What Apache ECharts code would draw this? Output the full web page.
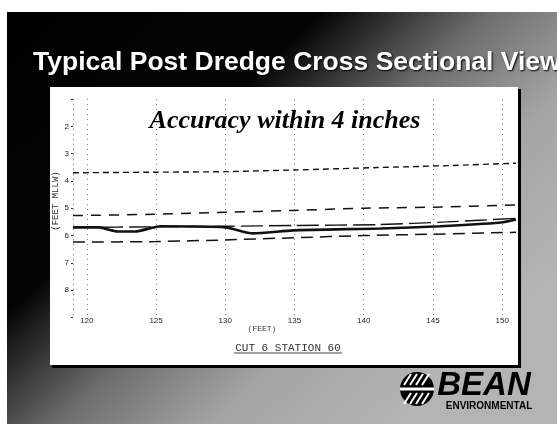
<!DOCTYPE html>
<html>
<head>
<meta charset="utf-8">
<script src="https://cdn.jsdelivr.net/npm/echarts@6/dist/echarts.min.js"></script>
<style>
  html, body { margin: 0; padding: 0; background: #fff; }
  #chart { width: 557px; height: 424px; }
</style>
</head>
<body>
<div id="chart"></div>
<script>
// Station (feet) and depth (feet MLLW) pairs for each profile
const upperTolerance = [[119, 3.70], [125, 3.68], [130, 3.66], [135, 3.60], [141, 3.51], [146, 3.44], [151, 3.35]];
const designGrade   = [[119, 5.27], [125, 5.22], [130, 5.15], [135, 5.08], [140, 5.00], [145, 4.96], [151, 4.88]];
const targetGrade   = [[119, 5.70], [125, 5.68], [130, 5.66], [135, 5.63], [141, 5.60], [146, 5.50], [151, 5.37]];
const surveyGrade   = [[119, 5.70], [120.9, 5.70], [122.2, 5.85], [123.5, 5.85], [125.3, 5.66], [130, 5.70],
                       [132, 5.92], [134.9, 5.81], [141.2, 5.74], [145.5, 5.66], [149.9, 5.52], [151, 5.41]];
const lowerTolerance = [[119, 6.24], [125, 6.22], [130, 6.16], [135, 6.08], [140, 6.00], [145, 5.95], [151, 5.88]];

const stationTicks = [120, 125, 130, 135, 140, 145, 150];
const depthTicks = [2, 3, 4, 5, 6, 7, 8];

const slideTitle = 'Typical Post Dredge Cross Sectional View';
const noteText = 'Accuracy within 4 inches';
const xName = '(FEET)';
const yName = '(FEET MLLW)';
const sectionName = 'CUT 6 STATION 60';

const chart = echarts.init(document.getElementById('chart'), null, { renderer: 'canvas' });

const ink = '#111';
const lineSeries = (name, data, width, dash) => ({
  name, type: 'line', data, symbol: 'none', smooth: 0.2, z: 5,
  lineStyle: { color: ink, width, type: dash || 'solid' }
});

const survey = lineSeries('survey', surveyGrade, 2.6);
survey.markLine = {
  silent: true, symbol: 'none', label: { show: false },
  lineStyle: { color: '#777', width: 1, type: [1, 4] },
  data: stationTicks.map(v => ({ xAxis: v }))
};

chart.setOption({
  backgroundColor: '#ffffff',
  animation: false,
  grid: { left: 73, right: 41, top: 99, bottom: 106.5 },
  xAxis: {
    type: 'value', min: 119, max: 151, interval: 1,
    axisLine: { show: false }, axisTick: { show: false }, splitLine: { show: false },
    axisLabel: {
      margin: -1, color: '#222', fontSize: 8, fontFamily: 'Liberation Sans',
      formatter: v => stationTicks.includes(v) ? String(v) : ''
    }
  },
  yAxis: {
    type: 'value', min: 1, max: 9, interval: 1, inverse: true,
    axisLine: { show: true, lineStyle: { color: '#999', width: 1, type: [1, 4] } },
    axisTick: { show: true, length: 2, lineStyle: { color: '#333' } },
    splitLine: { show: false },
    axisLabel: {
      margin: 4, color: '#222', fontSize: 8, fontFamily: 'Liberation Sans',
      formatter: v => depthTicks.includes(v) ? String(v) : ''
    }
  },
  series: [
    lineSeries('upper', upperTolerance, 1.4, [6, 4]),
    lineSeries('design', designGrade, 1.5, [10, 8]),
    lineSeries('target', targetGrade, 1.4, [22, 6]),
    survey,
    lineSeries('lower', lowerTolerance, 1.5, [12, 7])
  ],
  graphic: [
    // slide backdrop: black fading to grey towards the lower right
    { type: 'rect', z: -20, silent: true, shape: { x: 7, y: 12, width: 550, height: 412 },
      style: { fill: new echarts.graphic.LinearGradient(0, 0, 400, 420, [
        { offset: 0, color: '#000' }, { offset: 0.40, color: '#050505' },
        { offset: 0.60, color: '#6e6e6e' }, { offset: 0.78, color: '#a4a4a4' },
        { offset: 1, color: '#b4b4b4' }], true) } },
    // chart panel with drop shadow
    { type: 'rect', z: -10, silent: true, shape: { x: 52, y: 89, width: 469, height: 279 }, style: { fill: '#000' } },
    { type: 'rect', z: -9, silent: true, shape: { x: 50, y: 87, width: 468, height: 278 }, style: { fill: '#fff' } },
    // slide title
    { type: 'text', z: 10, left: 33, top: 49, silent: true,
      style: { text: slideTitle, fill: '#fff', font: 'bold 26.5px "Liberation Sans", Arial, sans-serif',
               textShadowColor: '#000', textShadowBlur: 2, textShadowOffsetX: 1, textShadowOffsetY: 1 } },
    // accuracy note
    { type: 'text', z: 10, x: 285, y: 121, silent: true,
      style: { text: noteText, fill: '#000', align: 'center', verticalAlign: 'middle',
               font: 'italic bold 26px "Liberation Serif", "Times New Roman", serif' } },
    // axis names and section label
    { type: 'text', z: 10, x: 56, y: 201, rotation: Math.PI / 2, silent: true,
      style: { text: yName, fill: '#333', align: 'center', verticalAlign: 'middle',
               font: '9px "Liberation Mono", monospace' } },
    { type: 'text', z: 10, x: 262, y: 329, silent: true,
      style: { text: xName, fill: '#333', align: 'center', verticalAlign: 'middle',
               font: '8px "Liberation Mono", monospace' } },
    { type: 'text', z: 10, x: 288, y: 348, silent: true,
      style: { text: sectionName, fill: '#333', align: 'center', verticalAlign: 'middle',
               font: '11px "Liberation Mono", monospace' } },
    { type: 'line', z: 10, silent: true, shape: { x1: 234, y1: 353, x2: 342, y2: 353 },
      style: { stroke: '#444', lineWidth: 1 } },
    // company logo
    { type: 'circle', z: 10, silent: true, shape: { cx: 417, cy: 389, r: 17 }, style: { fill: '#000' } },
    { type: 'rect', z: 11, silent: true, shape: { x: 400, y: 387.5, width: 34, height: 3 }, style: { fill: '#fff' } },
    ...[-8, -2, 4, 10].map(dx => ({ type: 'line', z: 11, silent: true,
      shape: { x1: 417 + dx - 5, y1: 385, x2: 417 + dx + 2, y2: 374 }, style: { stroke: '#fff', lineWidth: 2 } })),
    ...[-10, -4, 2, 8].map(dx => ({ type: 'line', z: 11, silent: true,
      shape: { x1: 417 + dx - 3, y1: 404, x2: 417 + dx + 4, y2: 393 }, style: { stroke: '#fff', lineWidth: 2 } })),
    { type: 'text', z: 10, x: 484, y: 386, silent: true,
      style: { text: 'BEAN', fill: '#000', align: 'center', verticalAlign: 'middle',
               font: 'italic 900 33px "Liberation Sans", Arial, sans-serif' } },
    { type: 'text', z: 10, x: 489, y: 406, silent: true,
      style: { text: 'ENVIRONMENTAL', fill: '#000', align: 'center', verticalAlign: 'middle',
               font: 'bold 10px "Liberation Sans", Arial, sans-serif' } }
  ]
});
</script>
</body>
</html>
